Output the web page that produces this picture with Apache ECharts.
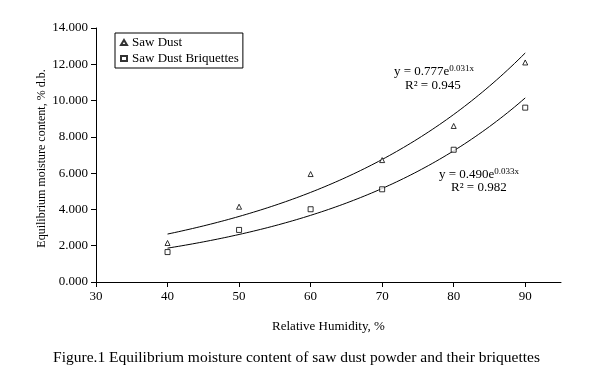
<!DOCTYPE html>
<html><head><meta charset="utf-8">
<script src="https://cdn.jsdelivr.net/npm/echarts@6/dist/echarts.min.js"></script>
<style>html,body{margin:0;padding:0;background:#fff}#c{width:593px;height:383px}</style>
</head><body><div id="c"></div>
<script>
const humidity = [40, 50, 60, 70, 80, 90];
const sawDust = [2.15, 4.15, 5.95, 6.72, 8.6, 12.1];
const briquettes = [1.65, 2.87, 4.01, 5.11, 7.29, 9.61];
const xTicks = [30, 40, 50, 60, 70, 80, 90];
const FONT = '"Liberation Serif", "Times New Roman", serif';

function expFit(xs, ys) {
  const n = xs.length;
  const lx = xs.reduce((a, b) => a + b, 0) / n;
  const ly = ys.map(Math.log);
  const my = ly.reduce((a, b) => a + b, 0) / n;
  let sxy = 0, sxx = 0;
  xs.forEach((x, i) => { sxy += (x - lx) * (ly[i] - my); sxx += (x - lx) * (x - lx); });
  const b = sxy / sxx;
  const a = Math.exp(my - b * lx);
  const pts = [];
  for (let x = xs[0]; x <= xs[n - 1] + 1e-9; x += 0.5) pts.push([x, a * Math.exp(b * x)]);
  return pts;
}

const chart = echarts.init(document.getElementById('c'), null, {renderer: 'canvas'});
const pair = (ys) => humidity.map((x, i) => [x, ys[i]]);
const supRich = {
  n: {fontFamily: FONT, fontSize: 13, fill: '#000'},
  s: {fontFamily: FONT, fontSize: 9, fill: '#000', verticalAlign: 'top', padding: [0, 0, 7, 0]}
};
chart.setOption({
  animation: false,
  backgroundColor: '#fff',
  textStyle: {fontFamily: FONT},
  grid: {left: 96, top: 28, right: 32, bottom: 101},
  legend: {
    orient: 'vertical', left: 115, top: 33,
    data: ['Saw Dust', 'Saw Dust Briquettes'],
    borderColor: '#000', borderWidth: 1, borderRadius: 0,
    padding: [3, 4, 3, 5], itemGap: 3, itemWidth: 6, itemHeight: 5,
    textStyle: {fontFamily: FONT, fontSize: 13, color: '#000'}
  },
  xAxis: {
    type: 'value', min: 30, max: 95, interval: 10,
    splitLine: {show: false},
    axisLine: {lineStyle: {color: '#000', width: 1}},
    axisTick: {show: true, length: 5, lineStyle: {color: '#000'}, customValues: xTicks},
    axisLabel: {customValues: xTicks, color: '#000', fontFamily: FONT, fontSize: 13, margin: 8},
    name: 'Relative Humidity, %', nameLocation: 'middle', nameGap: 38,
    nameTextStyle: {color: '#000', fontFamily: FONT, fontSize: 13}
  },
  yAxis: {
    type: 'value', min: 0, max: 14, interval: 2,
    splitLine: {show: false},
    axisLine: {show: true, lineStyle: {color: '#000', width: 1}},
    axisTick: {show: true, length: 5, lineStyle: {color: '#000'}},
    axisLabel: {color: '#000', fontFamily: FONT, fontSize: 13, margin: 8,
      formatter: v => v.toFixed(3)},
    name: 'Equilibrium moisture content, % d.b.', nameLocation: 'middle', nameGap: 48,
    nameMoveOverlap: false,
    nameTextStyle: {color: '#000', fontFamily: FONT, fontSize: 12, padding: [0, 0, 0, -7]}
  },
  series: [
    {name: 'Saw Dust', type: 'scatter', data: pair(sawDust), symbol: 'triangle', symbolSize: 5,
      itemStyle: {color: '#fff', borderColor: '#000', borderWidth: 1}, z: 5},
    {name: 'Saw Dust Briquettes', type: 'scatter', data: pair(briquettes), symbol: 'rect', symbolSize: 5,
      itemStyle: {color: '#fff', borderColor: '#000', borderWidth: 1}, z: 5},
    {name: 'fit1', type: 'line', data: expFit(humidity, sawDust), showSymbol: false, symbol: 'none',
      lineStyle: {color: '#000', width: 1}, z: 3},
    {name: 'fit2', type: 'line', data: expFit(humidity, briquettes), showSymbol: false, symbol: 'none',
      lineStyle: {color: '#000', width: 1}, z: 3}
  ],
  graphic: [
    {type: 'text', left: 394, top: 64, style: {rich: supRich, text: '{n|y = 0.777e}{s|0.031x}'}},
    {type: 'text', left: 405, top: 79, style: {text: 'R² = 0.945', fontFamily: FONT, fontSize: 13, fill: '#000'}},
    {type: 'text', left: 439, top: 167, style: {rich: supRich, text: '{n|y = 0.490e}{s|0.033x}'}},
    {type: 'text', left: 451, top: 181, style: {text: 'R² = 0.982', fontFamily: FONT, fontSize: 13, fill: '#000'}},
    {type: 'text', left: 'center', top: 350, style: {text: 'Figure.1 Equilibrium moisture content of saw dust powder and their briquettes', fontFamily: FONT, fontSize: 15.5, fill: '#000'}}
  ]
});
</script></body></html>
